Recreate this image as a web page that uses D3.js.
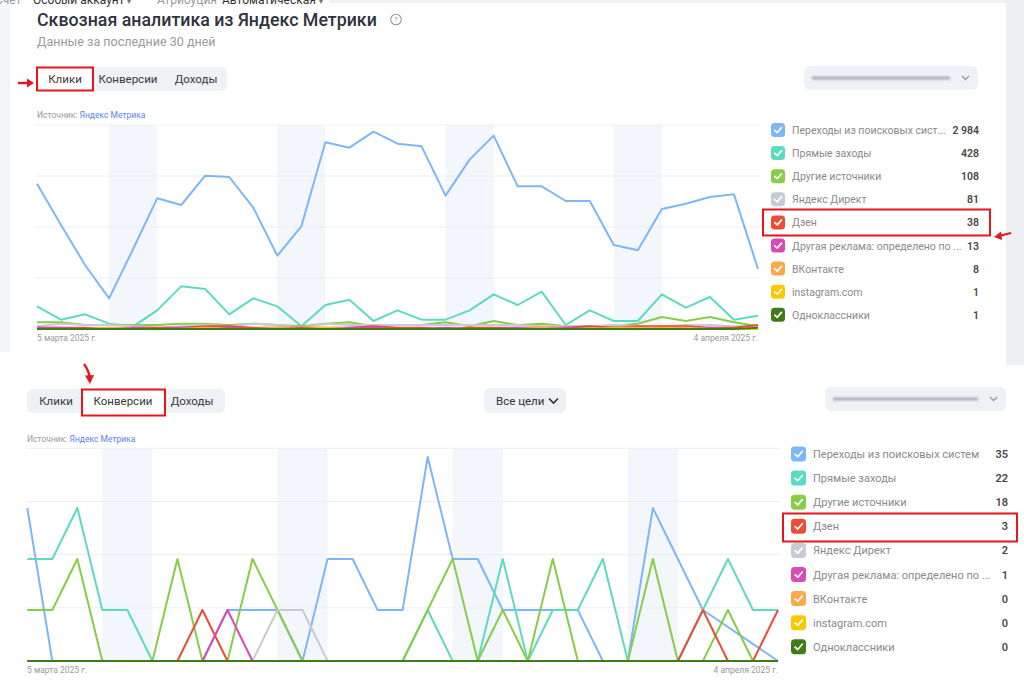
<!DOCTYPE html>
<html><head><meta charset="utf-8">
<script src="https://cdn.jsdelivr.net/npm/d3@7"></script>
<style>
html,body{margin:0;padding:0;background:#fff;}
svg{display:block;font-family:Roboto,"Noto Sans",sans-serif;}
</style></head><body>
<svg id="c" width="1024" height="683"></svg>
<script>
// ---------- DATA ----------
const startDate = new Date(2025, 2, 5);
const endDate = new Date(2025, 3, 5);
const xLabels = ["5 марта 2025 г.", "4 апреля 2025 г."];
const tabLabels = ["Клики", "Конверсии", "Доходы"];
const seriesColors = {
  search: "#7db7f7", direct: "#5cdbc1", other: "#87cd47", yadirect: "#c8cbd5",
  zen: "#ea4e37", otherads: "#d94ab7", vk: "#f8aa4c", insta: "#fcc900", ok: "#3f7c18"
};

// Top chart: clicks (visits) per day
const topSearch   = [109,78,48,23,60,98,93,115,114,91,55,77,140,136,148,139,137,100,127,145,107,107,96,96,63,59,90,94,99,101,45];
const topDirect   = [17,7,11,4,2,14,32,30,11,23,17,2,18,22,6,14,7,7,14,26,18,28,3,14,6,6,26,16,24,7,10];
const topOther    = [5,5,3,3,3,3,4,4,3,4,3,2,4,5,2,3,3,5,2,6,3,4,2,2,2,4,9,6,9,5,2];
const topYaDirect = [2,4,3,3,2,1,2,3,2,4,3,1,4,3,3,3,3,3,3,3,3,2,2,2,3,2,2,3,3,2,2];
const topZen      = [1,1,1,0,1,1,1,2,2,1,1,1,1,1,2,1,1,0,1,1,1,1,1,2,1,2,2,2,1,1,3];
const topOtherAds = [1,1,0,0,1,0,1,0,1,0,1,0,0,1,1,0,0,1,0,0,1,0,1,0,0,1,0,0,1,0,0];
const topVk       = [0,0,0,1,0,0,0,1,0,0,1,0,0,0,0,0,0,0,0,0,0,1,0,0,1,1,1,1,0,0,0];
const topInsta    = [0,0,0,0,0,0,0,0,0,0,0,0,1,0,0,0,0,0,0,0,0,0,0,0,0,0,0,0,0,0,0];
const topOk       = [0,0,0,0,0,0,0,0,0,0,0,0,0,0,0,0,0,0,0,0,0,0,0,0,0,0,0,0,0,0,1];
const topKeys   = ["search","direct","other","yadirect","zen","otherads","vk","insta","ok"];
const topLabels = ["Переходы из поисковых сист...","Прямые заходы","Другие источники","Яндекс Директ","Дзен","Другая реклама: определено по ...","ВКонтакте","instagram.com","Одноклассники"];
const topTotals = ["2 984","428","108","81","38","13","8","1","1"];
const topValues = [topSearch, topDirect, topOther, topYaDirect, topZen, topOtherAds, topVk, topInsta, topOk];
const topMax = 153;

// Bottom chart: conversions per day (null = no point)
const botSearch   = [3,0,0,0,0,0,0,0,1,1,1,0,2,2,1,1,4,2,2,1,1,1,1,0,0,3,2,1,null,null,0];
const botDirect   = [2,2,3,1,1,0,0,0,0,0,0,0,0,0,0,0,1,0,0,2,0,1,1,2,0,0,0,1,2,1,1];
const botOther    = [1,1,2,0,0,0,2,0,0,2,1,0,0,0,0,0,1,2,0,1,0,2,0,0,0,2,0,0,1,0,0];
const botZen      = [0,0,0,0,0,0,0,1,0,0,0,0,0,0,0,0,0,0,0,0,0,0,0,0,0,0,0,1,0,0,1];
const botYaDirect = [0,0,0,0,0,0,0,0,0,0,1,1,0,0,0,0,0,0,0,0,0,0,0,0,0,0,0,0,0,0,0];
const botOtherAds = [0,0,0,0,0,0,0,0,1,0,0,0,0,0,0,0,0,0,0,0,0,0,0,0,0,0,0,0,0,0,0];
const botVk       = [0,0,0,0,0,0,0,0,0,0,0,0,0,0,0,0,0,0,0,0,0,0,0,0,0,0,0,0,0,0,0];
const botInsta    = [0,0,0,0,0,0,0,0,0,0,0,0,0,0,0,0,0,0,0,0,0,0,0,0,0,0,0,0,0,0,0];
const botOk       = [0,0,0,0,0,0,0,0,0,0,0,0,0,0,0,0,0,0,0,0,0,0,0,0,0,0,0,0,0,0,0];
const botKeys   = ["search","direct","other","zen","yadirect","otherads","vk","insta","ok"];
const botLabels = ["Переходы из поисковых систем","Прямые заходы","Другие источники","Дзен","Яндекс Директ","Другая реклама: определено по ...","ВКонтакте","instagram.com","Одноклассники"];
const botTotals = ["35","22","18","3","2","1","0","0","0"];
const botValues = [botSearch, botDirect, botOther, botZen, botYaDirect, botOtherAds, botVk, botInsta, botOk];
const botMax = 4.17;

// ---------- DRAW ----------
const svg = d3.select("#c");
const dates = d3.timeDays(startDate, endDate);
const RED = "#e8151b";

svg.append("rect").attr("x",0).attr("y",0).attr("width",10).attr("height",352).attr("fill","#f4f5f8");
svg.append("rect").attr("x",1006).attr("y",0).attr("width",18).attr("height",365).attr("fill","#eef0f4");
svg.append("rect").attr("x",330).attr("y",0).attr("width",676).attr("height",3).attr("fill","#eef1f5");

// breadcrumb (cut off at the top edge as in the screenshot)
const bc = svg.append("text").attr("y",4).attr("font-size",12);
bc.append("tspan").attr("x",-5).attr("fill","#9a9a9a").text("Счет");
bc.append("tspan").attr("x",33).attr("fill","#333").text("Особый аккаунт");
bc.append("tspan").attr("x",126).attr("fill","#777").text("▾");
bc.append("tspan").attr("x",157).attr("fill","#9a9a9a").text("Атрибуция");
bc.append("tspan").attr("x",222).attr("fill","#333").text("Автоматическая");
bc.append("tspan").attr("x",318).attr("fill","#777").text("▾");

svg.append("text").attr("x",37).attr("y",26).attr("font-size",17.8).attr("font-weight",500)
  .attr("fill","#2f3340").text("Сквозная аналитика из Яндекс Метрики");
svg.append("circle").attr("cx",396).attr("cy",19.5).attr("r",5.3).attr("fill","none").attr("stroke","#9a9a9a").attr("stroke-width",1.1);
svg.append("text").attr("x",396).attr("y",22.3).attr("text-anchor","middle").attr("font-size",7.5).attr("fill","#9a9a9a").text("?");
svg.append("text").attr("x",37).attr("y",46).attr("font-size",12.5).attr("fill","#9b9b9b").text("Данные за последние 30 дней");

function tabs(x, y, w, centers, activeBox) {
  svg.append("rect").attr("x",x).attr("y",y).attr("width",w).attr("height",24).attr("rx",6).attr("fill","#eef1f6");
  svg.append("rect").attr("x",activeBox[0]).attr("y",y+1).attr("width",activeBox[1]).attr("height",22).attr("rx",5).attr("fill","#fff");
  tabLabels.forEach((t,i)=>{
    svg.append("text").attr("x",centers[i]).attr("y",y+16).attr("text-anchor","middle")
      .attr("font-size",11.5).attr("fill","#3a3a3a").text(t);
  });
}
const defs = svg.append("defs");
defs.append("filter").attr("id","blur").attr("x","-10%").attr("y","-200%").attr("width","120%").attr("height","500%")
  .append("feGaussianBlur").attr("stdDeviation",1.3);
function blurredDrop(x,y,w){
  svg.append("rect").attr("x",x).attr("y",y).attr("width",w).attr("height",24).attr("rx",6).attr("fill","#eef1f6");
  svg.append("rect").attr("x",x+8).attr("y",y+10.5).attr("width",w-36).attr("height",3).attr("fill","#a9abb2").attr("filter","url(#blur)");
  svg.append("path").attr("d",`M${x+w-16},${y+10} l3.5,3.5 l3.5,-3.5`).attr("fill","none").attr("stroke","#999").attr("stroke-width",1.3);
}

tabs(37,67,190,[65,128,196],[38,54]);
svg.append("rect").attr("x",37).attr("y",67.5).attr("width",56).attr("height",23).attr("fill","none").attr("stroke",RED).attr("stroke-width",2);
svg.append("path").attr("d","M18,83 L29,83").attr("stroke",RED).attr("stroke-width",2.4);
svg.append("path").attr("d","M27,78.5 L34,83 L27,87.5 Z").attr("fill",RED);
blurredDrop(804,66,174);

function source(x,y){
  const t = svg.append("text").attr("x",x).attr("y",y).attr("font-size",8.5);
  t.append("tspan").attr("fill","#999").text("Источник: ");
  t.append("tspan").attr("fill","#5b7ff0").text("Яндекс Метрика");
}
source(37,118);

function chart(x0, x1, yTop, yBase, maxV, values, keys) {
  const x = d3.scaleTime().domain([dates[0], dates[dates.length-1]]).range([x0,x1]);
  const y = d3.scaleLinear().domain([0,maxV]).range([yBase,yTop]);
  const g = svg.append("g");
  dates.filter(d=>d.getDay()===6).forEach(d=>{
    const e = d3.timeDay.offset(d,2);
    g.append("rect").attr("x",x(d)).attr("y",yTop).attr("width",Math.min(x(e),x1)-x(d)).attr("height",yBase-yTop).attr("fill","#f3f6fa");
  });
  d3.range(5).forEach(k=>{
    const yy = y(maxV*k/4);
    g.append("line").attr("x1",x0-1).attr("x2",x1+2).attr("y1",yy).attr("y2",yy).attr("stroke","#eceef2").attr("stroke-width",1);
  });
  const line = d3.line().x(p=>x(p[0])).y(p=>y(p[1]));
  values.forEach((vals,si)=>{
    const pts = vals.map((v,i)=>[dates[i],v]).filter(p=>p[1]!=null);
    g.append("path").attr("d",line(pts)).attr("fill","none").attr("stroke",seriesColors[keys[si]])
      .attr("stroke-width",2).attr("stroke-linejoin","round");
  });
}
chart(37,758,125,329,topMax,topValues,topKeys);
svg.append("text").attr("x",37).attr("y",341).attr("font-size",8.5).attr("fill","#999").text(xLabels[0]);
svg.append("text").attr("x",758).attr("y",341).attr("text-anchor","end").attr("font-size",8.5).attr("fill","#999").text(xLabels[1]);

function legend(xBox, textX, valX, y0, step, size, fs, labels, totals, keys){
  labels.forEach((l,i)=>{
    const cy = y0 + step*i;
    svg.append("rect").attr("x",xBox).attr("y",cy-size/2).attr("width",size).attr("height",size).attr("rx",3.5).attr("fill",seriesColors[keys[i]]);
    svg.append("path").attr("d",`M${xBox+size*0.27},${cy+0.3} L${xBox+size*0.45},${cy+size*0.18} L${xBox+size*0.75},${cy-size*0.17}`)
      .attr("fill","none").attr("stroke","#fff").attr("stroke-width",1.7).attr("stroke-linecap","round").attr("stroke-linejoin","round");
    svg.append("text").attr("x",textX).attr("y",cy+4).attr("font-size",fs).attr("fill","#8a8a8a").text(l);
    svg.append("text").attr("x",valX).attr("y",cy+4).attr("text-anchor","end").attr("font-size",fs).attr("font-weight",600).attr("fill","#474747").text(totals[i]);
  });
}
legend(771,792,979,130,23.1,14,10.5,topLabels,topTotals,topKeys);
svg.append("rect").attr("x",763).attr("y",209.5).attr("width",227).attr("height",26).attr("fill","none").attr("stroke",RED).attr("stroke-width",2);
svg.append("path").attr("d","M1011,233 Q1005,234.5 999,236").attr("fill","none").attr("stroke",RED).attr("stroke-width",2.2);
svg.append("path").attr("d","M1001,231.5 L994,237 L1002,240 Z").attr("fill",RED);

// ---- bottom ----
svg.append("path").attr("d","M84,364 Q89,371 89.5,377").attr("fill","none").attr("stroke",RED).attr("stroke-width",2.2);
svg.append("path").attr("d","M85,375.5 L90,384 L94,375 Z").attr("fill",RED);
tabs(27,389,198,[56,123,192],[83,81]);
svg.append("rect").attr("x",82).attr("y",389.5).attr("width",83).attr("height",26).attr("fill","none").attr("stroke",RED).attr("stroke-width",2);
svg.append("rect").attr("x",484).attr("y",388).attr("width",82).attr("height",25).attr("rx",6).attr("fill","#eef1f6");
svg.append("text").attr("x",496).attr("y",405).attr("font-size",11.5).attr("fill","#333").text("Все цели");
svg.append("path").attr("d","M549,398.5 l4.5,4.5 l4.5,-4.5").attr("fill","none").attr("stroke","#333").attr("stroke-width",1.7);
blurredDrop(825,387,181);
source(27,442);
chart(27.3,778,448.3,661,botMax,botValues,botKeys);
svg.append("text").attr("x",27).attr("y",673).attr("font-size",8.5).attr("fill","#999").text(xLabels[0]);
svg.append("text").attr("x",778).attr("y",673).attr("text-anchor","end").attr("font-size",8.5).attr("fill","#999").text(xLabels[1]);
legend(791,813,1008,454,24.1,15,11,botLabels,botTotals,botKeys);
svg.append("rect").attr("x",783).attr("y",513.5).attr("width",234).attr("height",28).attr("fill","none").attr("stroke",RED).attr("stroke-width",2);
</script>
</body></html>
